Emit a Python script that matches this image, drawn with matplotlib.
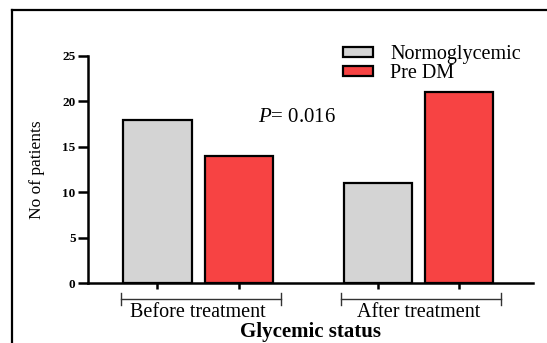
import matplotlib.pyplot as plt
import numpy as np
from matplotlib.lines import Line2D

plt.rcParams['font.family'] = 'Liberation Serif'
plt.rcParams['mathtext.fontset'] = 'custom'
plt.rcParams['mathtext.it'] = 'Liberation Serif:italic'
plt.rcParams['mathtext.rm'] = 'Liberation Serif'

groups = ["Before treatment", "After treatment"]
series = ["Normoglycemic", "Pre DM"]
normo = [18, 11]
predm = [14, 21]
yticks = [0, 5, 10, 15, 20, 25]
p_text = "$P$= 0.016"

colors = ["#d4d4d4", "#f74343"]
width = 0.31
offset = 0.185

fig = plt.figure(figsize=(5.47, 3.43), dpi=100)
ax = fig.add_axes([88 / 547, 60 / 343, (533 - 88) / 547, 227 / 343])

x = np.arange(len(groups))
ax.bar(x - offset, normo, width, color=colors[0], edgecolor="black", linewidth=1.6, label=series[0])
ax.bar(x + offset, predm, width, color=colors[1], edgecolor="black", linewidth=1.6, label=series[1])

ax.set_xlim(-0.5, 1.52)
ax.set_ylim(0, 25)
ax.set_yticks(yticks)
ax.set_yticklabels([str(t) for t in yticks], fontsize=9.5, fontweight="bold")
ax.set_xticks(np.concatenate([x - offset, x + offset]))
ax.set_xticklabels([])
ax.tick_params(axis="both", width=1.8)
ax.tick_params(axis="y", length=7, pad=2)
ax.tick_params(axis="x", length=4.5)
for s in ["top", "right"]:
    ax.spines[s].set_visible(False)
for s in ["left", "bottom"]:
    ax.spines[s].set_linewidth(1.8)

# group brackets and labels
tr = ax.get_xaxis_transform()
yb = -0.07
for xi, g in zip(x, groups):
    lo, hi = xi - 0.35, xi + 0.375
    ax.plot([lo, hi], [yb, yb], color="#333333", lw=1.0, transform=tr, clip_on=False)
    for e in (lo, hi):
        ax.plot([e, e], [yb - 0.026, yb + 0.026], color="#333333", lw=1.0, transform=tr, clip_on=False)
    ax.text(xi, -0.132, g, transform=tr, ha="center", va="center", fontsize=14.5)

ax.text(0.5, -0.214, "Glycemic status", transform=ax.transAxes, ha="center", va="center",
        fontsize=15, fontweight="bold")
ax.set_ylabel("No of patients", fontsize=12.5)
ax.yaxis.set_label_coords(-0.097, 0.5)

ax.text(0.382, 0.731, p_text, transform=ax.transAxes, ha="left", va="center", fontsize=15)

ax.legend(loc="upper left", bbox_to_anchor=(333 / 547, 1 - 35 / 343), bbox_transform=fig.transFigure,
          frameon=False, fontsize=14.5, handlelength=1.5, handleheight=0.35,
          labelspacing=0.0, handletextpad=0.85, borderpad=0)

# outer frame (left and top edges)
fig.add_artist(Line2D([11.5 / 547, 11.5 / 547], [0, 1 - 10 / 343], color="black", lw=1.6))
fig.add_artist(Line2D([11.5 / 547, 1], [1 - 10 / 343, 1 - 10 / 343], color="black", lw=1.6))

fig.savefig("out.png", dpi=100)
